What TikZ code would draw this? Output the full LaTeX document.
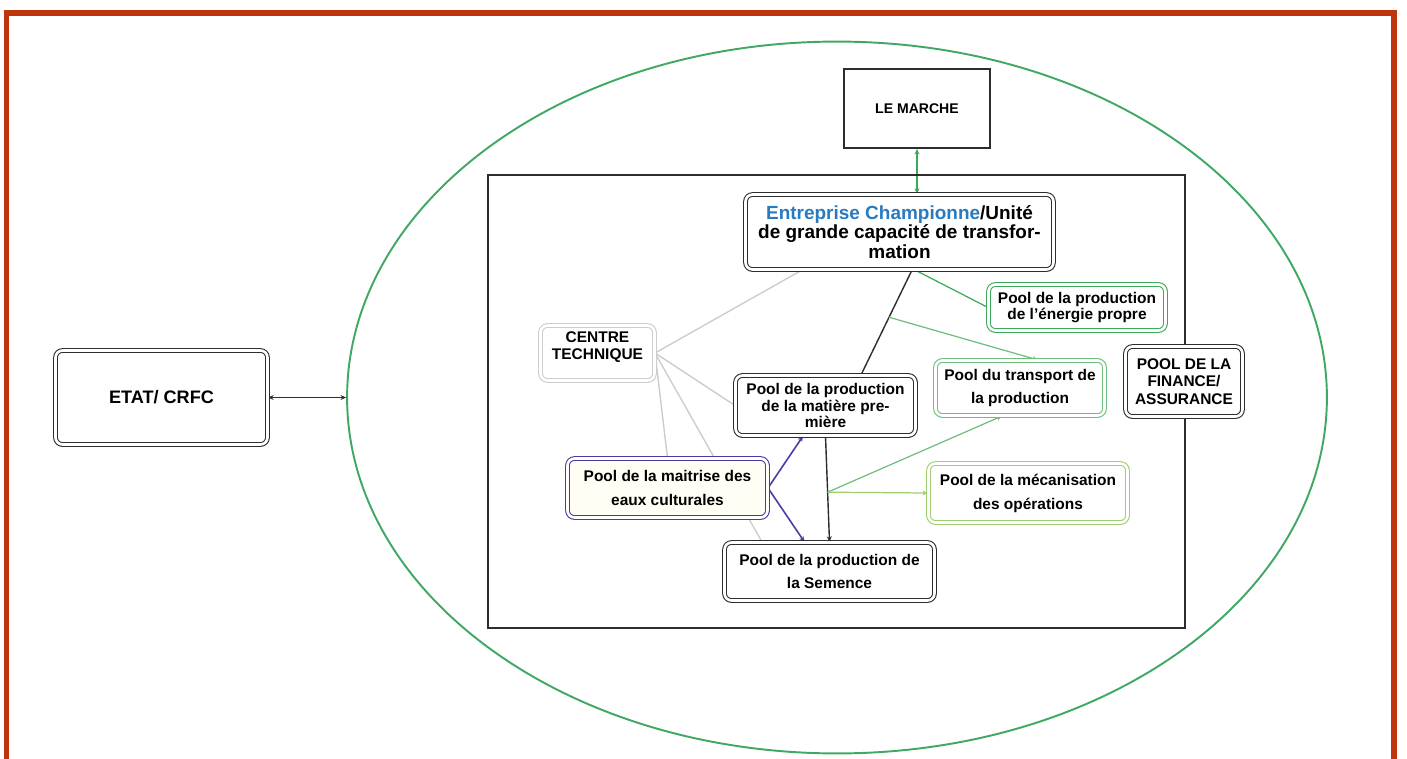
\documentclass[tikz,border=0pt]{standalone}
\usepackage{fontspec}
\setmainfont{Liberation Sans}
\usetikzlibrary{shapes.geometric,arrows.meta,backgrounds}

\definecolor{cadreRouge}{RGB}{190,52,12}
\definecolor{vertZone}{RGB}{64,168,100}
\definecolor{vertEnergie}{RGB}{60,168,90}
\definecolor{vertTransport}{RGB}{110,190,125}
\definecolor{vertMeca}{RGB}{160,205,110}
\definecolor{bleuEau}{RGB}{72,60,160}
\definecolor{bleuTexte}{RGB}{42,122,192}
\definecolor{grisLien}{RGB}{205,205,205}
\definecolor{noirTrait}{RGB}{45,45,45}
\definecolor{creme}{RGB}{255,253,244}

\tikzset{
  >={Stealth[length=3.2pt,width=2.8pt]},
  pool/.style={rectangle, rounded corners=0.14cm, draw=noirTrait, line width=0.6pt, double=white, double distance=1.5pt, fill=white, align=center, inner sep=1pt, font=\bfseries\fontsize{8.8}{9.6}\selectfont},
  poolLarge/.style={pool, font=\bfseries\fontsize{8.8}{13.6}\selectfont},
  lien/.style={line width=0.8pt, draw=noirTrait},
  lienVert/.style={line width=0.7pt, draw=vertEnergie},
  lienTransport/.style={line width=0.7pt, draw=vertTransport},
  lienMeca/.style={line width=0.7pt, draw=vertMeca},
  lienBleu/.style={line width=0.9pt, draw=bleuEau},
  lienGris/.style={line width=0.8pt, draw=grisLien},
}

\begin{document}
\begin{tikzpicture}[x=0.02cm, y=-0.02cm]
\useasboundingbox (0,0) rectangle (1407,758);
\draw[cadreRouge, line width=3.4pt] (6.5,13) rectangle (1394,820);
\node[ellipse, draw=vertZone, line width=1.1pt, inner sep=0pt, minimum width=19.6cm, minimum height=14.24cm] (zone) at (837,397.5) {};
\draw[noirTrait, line width=1.1pt] (488,175) rectangle (1185,628);

\node[rectangle, draw=noirTrait, line width=1pt, minimum width=2.92cm, minimum height=1.58cm, font=\bfseries\fontsize{8}{9}\selectfont] (marche) at (917,108.5) {LE MARCHE};
\node[pool, minimum width=6.16cm, minimum height=1.5cm, font=\bfseries\fontsize{10.8}{11.3}\selectfont] (ent) at (899.5,232) {\textcolor{bleuTexte}{Entreprise Championne}/Unité\\de grande capacité de transfor-\\mation};
\node[pool, draw=grisLien, text depth=8.6pt, minimum width=2.28cm, minimum height=1.1cm] (centre) at (597.5,353) {CENTRE\\TECHNIQUE};
\node[pool, minimum width=3.6cm, minimum height=1.2cm] (mat) at (825.5,405.5) {Pool de la production\\de la matière pre-\\mière};
\node[pool, draw=vertEnergie, minimum width=3.54cm, minimum height=0.92cm] (energie) at (1077,307.5) {Pool de la production\\de l'énergie propre};
\node[poolLarge, draw=vertTransport, minimum width=3.38cm, minimum height=1.1cm] (transport) at (1020,388) {Pool du transport de\\la production};
\node[poolLarge, draw=vertMeca, minimum width=3.98cm, minimum height=1.18cm] (meca) at (1028,493) {Pool de la mécanisation\\des opérations};
\node[pool, minimum width=2.34cm, minimum height=1.4cm, font=\bfseries\fontsize{8.8}{9.9}\selectfont] (finance) at (1184,381.5) {POOL DE LA\\FINANCE/\\ASSURANCE};
\node[poolLarge, draw=bleuEau, fill=creme, minimum width=4cm, minimum height=1.18cm] (maitrise) at (667.5,488) {Pool de la maitrise des\\eaux culturales};
\node[poolLarge, minimum width=4.2cm, minimum height=1.16cm] (semence) at (829.5,571.5) {Pool de la production de\\la Semence};
\node[pool, minimum width=4.24cm, minimum height=1.88cm, font=\bfseries\fontsize{10.3}{12}\selectfont] (etat) at (161.5,397.5) {ETAT/ CRFC};

\begin{scope}[on background layer]
\draw[lien, line width=0.6pt, <->] (etat.east) -- (zone.west);
\draw[lienVert, <->] (marche.south) -- (marche.south |- ent.north);
\draw[lien] ([xshift=0.25cm]ent.south) -- coordinate[pos=0.45] (jonctionA) ([xshift=0.71cm]mat.north);
\draw[lienVert] (energie.west) -- ([xshift=0.31cm]ent.south);
\draw[lienTransport, ->] (jonctionA) -- ([xshift=0.36cm]transport.north);
\draw[lien, ->] (mat.south) -- coordinate[pos=0.53] (jonctionB) (semence.north);
\draw[lienTransport, ->] (jonctionB) -- ([xshift=-0.36cm]transport.south);
\draw[lienMeca, ->] (jonctionB) -- (meca.west);
\draw[lienBleu, ->] (maitrise.east) -- ([xshift=-0.45cm]mat.south);
\draw[lienBleu, ->] (maitrise.east) -- ([xshift=-0.5cm]semence.north);
\draw[lienGris] (centre.east) -- ([xshift=-1.95cm]ent.south);
\draw[lienGris] (centre.east) -- (mat.west);
\draw[lienGris] (centre.east) -- (maitrise.north);
\draw[lienGris] (centre.east) -- ([xshift=-1.35cm]semence.north);
\end{scope}
\end{tikzpicture}
\end{document}
